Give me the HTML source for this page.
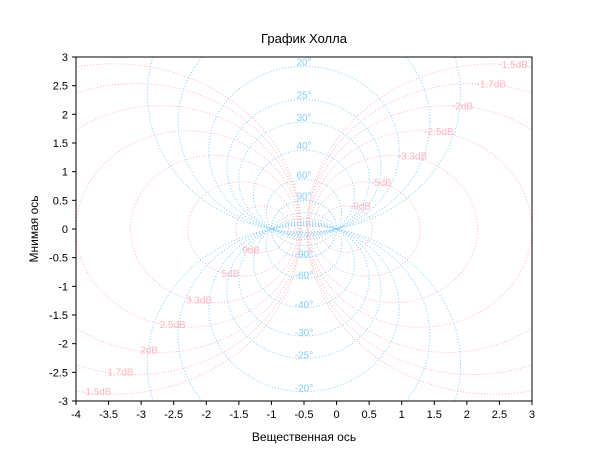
<!DOCTYPE html>
<html><head><meta charset="utf-8">
<style>
html,body{margin:0;padding:0;background:#fff;width:610px;height:460px;overflow:hidden;}
svg{display:block;font-family:"Liberation Sans","DejaVu Sans",sans-serif;}
</style></head>
<body>
<svg id="s" width="610" height="460" xmlns="http://www.w3.org/2000/svg">
<rect width="610" height="460" fill="#fff"/>
<g id="curves"></g>
<g id="labels" font-size="10"></g>
<rect x="76" y="57" width="456" height="344" fill="none" stroke="#000" stroke-width="1"/>
<g id="axes" font-size="11" fill="#000"></g>
<text x="304" y="43" font-size="13" text-anchor="middle">График Холла</text>
<text x="304" y="441" font-size="12" text-anchor="middle">Вещественная ось</text>
<text x="0" y="0" font-size="12" text-anchor="middle" transform="translate(38,229) rotate(-90)">Мнимая ось</text>
</svg>
<script>
(function(){
var NS="http://www.w3.org/2000/svg";
function X(x){return 76+(x+4)*456/7;}
function Y(y){return 57+(3-y)*344/6;}
var cur=document.getElementById("curves"),lab=document.getElementById("labels"),ax=document.getElementById("axes");
function el(p,t,a,txt){var e=document.createElementNS(NS,t);for(var k in a)e.setAttribute(k,a[k]);if(txt!=null)e.textContent=txt;p.appendChild(e);return e;}
function inside(px,py){return px>=76&&px<=532&&py>=57&&py<=401;}
function circ(cx,cy,r,col){
  var n=1440,d="",pen=false;
  for(var i=0;i<=n;i++){var t=i/n*2*Math.PI;
    var px=X(cx+r*Math.cos(t)),py=Y(cy+r*Math.sin(t));
    if(inside(px,py)){d+=(pen?"L":"M")+px.toFixed(2)+" "+py.toFixed(2);pen=true;}
    else pen=false;}
  if(d)el(cur,"path",{d:d,fill:"none",stroke:col,"stroke-width":1,"stroke-dasharray":"1,2"});
}
var pink="#ffb6c1", blue="#87cefa";
var dbs=[1.5,1.7,2,2.5,3.3,5,9];
dbs.forEach(function(d){
 [d,-d].forEach(function(db){
  var M=Math.pow(10,db/20),M2=M*M,c=-M2/(M2-1),r=Math.abs(M/(M2-1));
  circ(c,0,r,pink);
  if(db>0){el(lab,"text",{x:X(c)-2,y:Y(-r)+1,fill:pink,"text-anchor":"end"},db+"dB");}
  else{el(lab,"text",{x:X(c)+4,y:Y(r)+4,fill:pink,"text-anchor":"start"},db+"dB");}
 });
});
var phs=[12,15,20,25,30,40,60,90];
phs.forEach(function(p){
 [p,-p].forEach(function(ph){
  var N=Math.tan(ph*Math.PI/180),cy=(Math.abs(ph)==90)?0:1/(2*N),r=Math.sqrt(0.25+cy*cy);
  circ(-0.5,cy,r,blue);
  if(Math.abs(ph)<20)return;
  if(ph>0)el(lab,"text",{x:X(-0.5),y:Y(cy+r)-1,fill:blue,"text-anchor":"middle"},ph+"°");
  else el(lab,"text",{x:X(-0.5),y:Y(cy-r),fill:blue,"text-anchor":"middle"},ph+"°");
 });
});
for(var i=0;i<=14;i++){var x=-4+i*0.5,px=X(x);
 el(ax,"line",{x1:px,y1:401,x2:px,y2:405,stroke:"#000"});
 el(ax,"text",{x:px,y:418,"text-anchor":"middle"},String(x));}
for(var j=0;j<=12;j++){var y=-3+j*0.5,py=Y(y);
 el(ax,"line",{x1:72,y1:py,x2:76,y2:py,stroke:"#000"});
 el(ax,"text",{x:68,y:py+4,"text-anchor":"end"},String(y));}
})();
</script>
</body></html>
